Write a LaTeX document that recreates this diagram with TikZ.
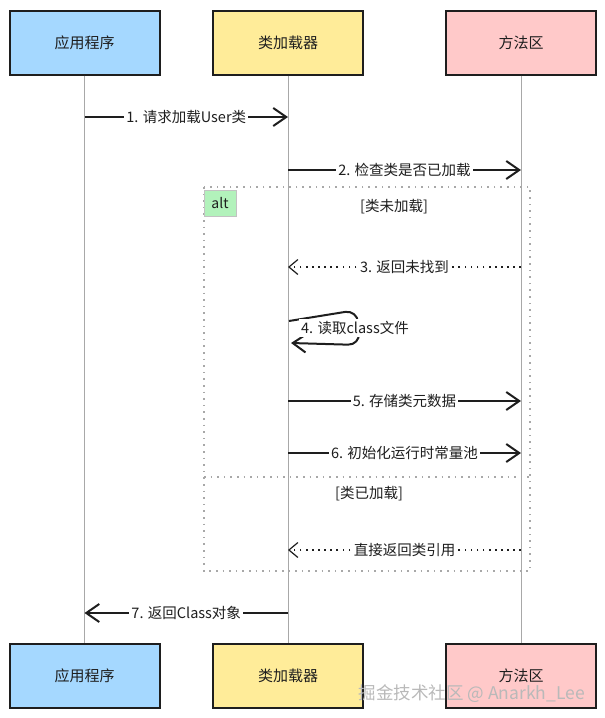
\documentclass[tikz,border=0pt]{standalone}
\usepackage{fontspec}
\newfontfamily\cjk{Noto Sans CJK SC}
\usetikzlibrary{arrows.meta}
\definecolor{cblue}{HTML}{A5D8FF}
\definecolor{cyellow}{HTML}{FFEC99}
\definecolor{cpink}{HTML}{FFC9C9}
\definecolor{cgreen}{HTML}{B2F2BB}
\definecolor{lifegray}{HTML}{A8A8A8}
\definecolor{ink}{HTML}{1E1E1E}
\begin{document}
\begin{tikzpicture}[x=1pt,y=-1pt,
  actor/.style={draw=ink,line width=2pt,minimum width=150pt,minimum height=64pt,
    font=\cjk\fontsize{15}{17}\selectfont,text=ink},
  lifeline/.style={draw=lifegray,line width=1pt},
  msg/.style={draw=ink,line width=2pt,-{Straight Barb[length=13pt,width=18pt,line width=2pt]}},
  ret/.style={draw=ink,line width=1.8pt,dash pattern=on 1.6pt off 4.5pt,
    -{Straight Barb[length=9pt,width=15pt,line width=1.2pt]}},
  lbl/.style={fill=white,inner sep=2pt,font=\cjk\fontsize{14.5}{16}\selectfont,text=ink},
  guard/.style={font=\cjk\fontsize{14.5}{16}\selectfont,text=ink},
  framebox/.style={draw=lifegray,line width=1.6pt,dash pattern=on 1.6pt off 5pt},
]
\useasboundingbox (0,0) rectangle (605,718);

% actors
\node[actor,fill=cblue]   (appT) at (84.5,42.5) {应用程序};
\node[actor,fill=cyellow] (clT)  at (288,42.5)  {类加载器};
\node[actor,fill=cpink]   (maT)  at (521,42.5)  {方法区};
\node[actor,fill=cblue]   (appB) at (84.5,675.5) {应用程序};
\node[actor,fill=cyellow] (clB)  at (288,675.5)  {类加载器};
\node[actor,fill=cpink]   (maB)  at (521,675.5)  {方法区};

% lifelines
\draw[lifeline] (appT.south) -- (appB.north);
\draw[lifeline] (clT.south) -- (clB.north);
\draw[lifeline] (maT.south) -- (maB.north);

% alt frame
\draw[framebox] (204,187) rectangle (530,571);
\draw[framebox] (204,477) -- (530,477);
\node[draw=lifegray!70,line width=1pt,fill=cgreen,minimum width=32pt,minimum height=26pt,
  inner sep=0pt,font=\cjk\fontsize{14}{16}\selectfont,text=ink] (alt) at (220,203) {alt};
\node[guard] (g1) at (394,207) {[类未加载]};
\node[guard] (g2) at (369,494) {[类已加载]};

% message anchor points
\coordinate (a1) at (84.5,117);  \coordinate (b1) at (288,117);
\coordinate (b2) at (288,170);   \coordinate (c2) at (521,170);
\coordinate (c3) at (521,267);   \coordinate (b3) at (288,267);
\coordinate (b4a) at (289,321);  \coordinate (b4b) at (291,343);
\coordinate (b5) at (288,401);   \coordinate (c5) at (521,401);
\coordinate (b6) at (288,453);   \coordinate (c6) at (521,453);
\coordinate (c7) at (521,550);   \coordinate (b7) at (288,550);
\coordinate (b8) at (288,613);   \coordinate (a8) at (84.5,613);

\draw[msg] (a1) -- node[lbl] (m1) {1. 请求加载User类} (b1);
\draw[msg] (b2) -- node[lbl] (m2) {2. 检查类是否已加载} (c2);
\draw[ret] (c3) -- node[lbl] (m3) {3. 返回未找到} (b3);
\draw[msg,rounded corners=12pt] (b4a) -- (357,310) -- (360,345) -- (b4b);
\node[lbl] (m4) at (355,328) {4. 读取class文件};
\draw[msg] (b5) -- node[lbl] (m5) {5. 存储类元数据} (c5);
\draw[msg] (b6) -- node[lbl] (m6) {6. 初始化运行时常量池} (c6);
\draw[ret] (c7) -- node[lbl] (m7) {直接返回类引用} (b7);
\draw[msg] (b8) -- node[lbl] (m8) {7. 返回Class对象} (a8);

% watermark
\node[font=\cjk\fontsize{17.5}{19}\selectfont,text=gray!55] (wm) at (472,694) {掘金技术社区 @ Anarkh\_Lee};
\end{tikzpicture}
\end{document}
